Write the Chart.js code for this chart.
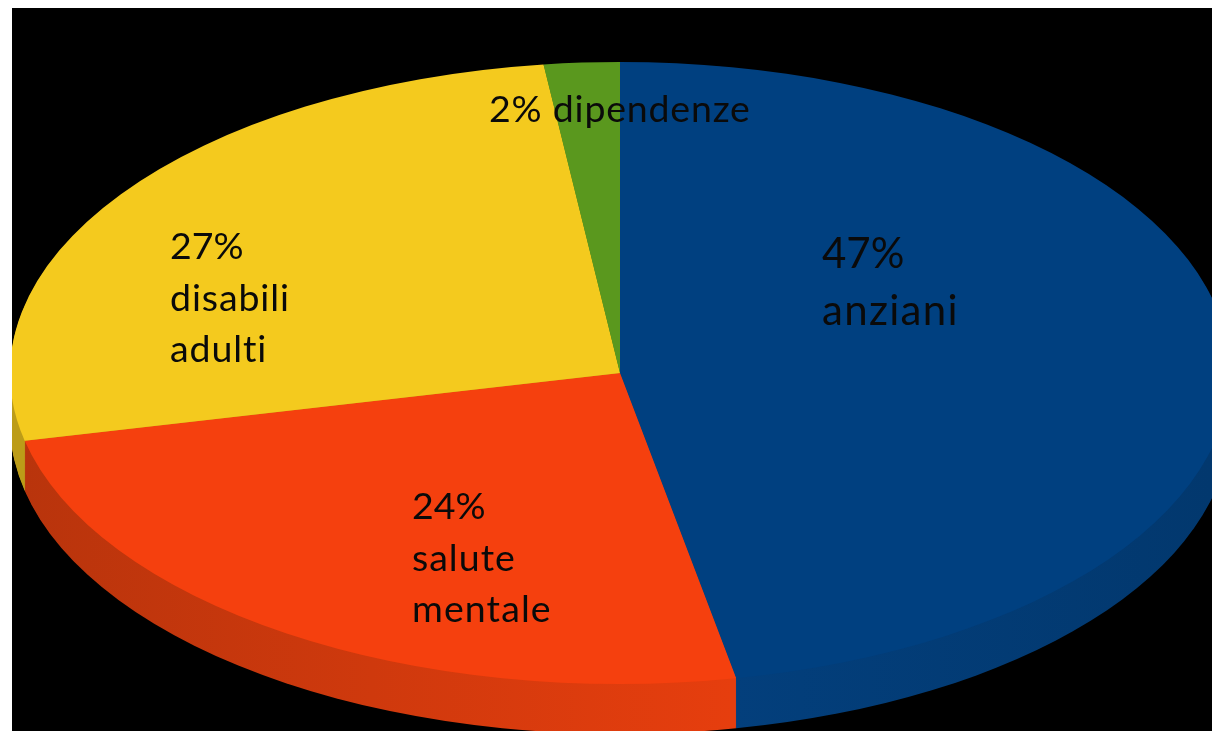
<!DOCTYPE html>
<html><head><meta charset="utf-8">
<style>html,body{margin:0;padding:0;background:#fff;overflow:hidden}
#w{position:absolute;left:12px;top:8px;width:1200px;height:723px}
canvas{display:block}</style>
<script src="https://cdn.jsdelivr.net/npm/chart.js@4"></script></head>
<body><div id="w"><canvas id="c" width="1200" height="723"></canvas></div>
<script>
const categories = ['anziani','salute mentale','disabili adulti','dipendenze'];
const shares = [46.95, 24.55, 26.5, 2.0];
const percentLabels = ['47%','24%','27%','2%'];
const sliceColors = ['#004080','#F5400E','#F4CA1E','#5A981E'];
const rimLeftColors = ['#033F7C','#B8340C','#BC9C18','#4A7C18'];
const rimRightColors = ['#02386E','#E63E0E','#C8A61A','#4A7C18'];

const view = {cx:608, cy:365, rx:610, ry:311, depth:50};
const textBlocks = [
  {lines:['47%','anziani'], spacing:[0,1.3], x:810, y:246, lh:57, size:42},
  {lines:['24%','salute','mentale'], spacing:[0,1,1.1], x:400, y:499, lh:51.5, size:37.5},
  {lines:['27%','disabili','adulti'], spacing:[0,0.9,0.9], x:158, y:239, lh:51.5, size:37.5},
  {lines:['2% dipendenze'], spacing:[0.8], x:477, y:102, lh:50, size:37.5}
];
function applyView(ctx, a){
  ctx.translate(view.cx, view.cy);
  ctx.scale(view.rx/a.outerRadius, view.ry/a.outerRadius);
  ctx.translate(-a.x, -a.y);
}
const pie3d = {
  id:'pie3d',
  beforeDatasetsDraw(chart){
    const ctx = chart.ctx, arcs = chart.getDatasetMeta(0).data;
    const r = arcs[0].outerRadius, sx = view.rx/r;
    const grads = arcs.map((a,i)=>{
      const g = ctx.createLinearGradient(-view.cx/sx,0,(chart.width-view.cx)/sx,0);
      if(i===1){
        g.addColorStop(0, rimLeftColors[i]); g.addColorStop(0.6, rimRightColors[i]); g.addColorStop(1, rimRightColors[i]);
      }else{
        g.addColorStop(0.6, rimLeftColors[i]); g.addColorStop(1, rimRightColors[i]);
      }
      return g;
    });
    for(let d=view.depth;d>=1;d--){
      arcs.forEach((a,i)=>{
        ctx.save();
        ctx.translate(0,d);
        ctx.translate(view.cx, view.cy);
        ctx.scale(sx, view.ry/r);
        ctx.fillStyle = grads[i];
        ctx.beginPath();
        ctx.moveTo(0,0);
        ctx.arc(0,0,r,a.startAngle,a.endAngle);
        ctx.closePath(); ctx.fill();
        ctx.restore();
      });
    }
  },
  beforeDatasetDraw(chart){
    chart.ctx.save();
    applyView(chart.ctx, chart.getDatasetMeta(0).data[0]);
  },
  afterDatasetDraw(chart){ chart.ctx.restore(); },
  afterDatasetsDraw(chart){
    const ctx = chart.ctx;
    ctx.save();
    ctx.fillStyle = '#0a0a0a';
    ctx.textBaseline = 'middle'; ctx.textAlign = 'left';
    textBlocks.forEach(b=>{
      ctx.font = b.size+'px Lato, sans-serif';
      b.lines.forEach((t,i)=>{
        ctx.letterSpacing = b.spacing[i]+'px';
        ctx.fillText(t,b.x,b.y+i*b.lh);
      });
    });
    ctx.restore();
  }
};
new Chart(document.getElementById('c'),{
  type:'pie',
  data:{labels:categories,datasets:[{data:shares,backgroundColor:sliceColors,borderWidth:0}]},
  options:{responsive:false,animation:false,layout:{padding:0},
    plugins:{legend:{display:false},tooltip:{enabled:false},title:{display:false}}},
  plugins:[{id:'bg',beforeDraw(c){c.ctx.fillStyle='#000';c.ctx.fillRect(0,0,c.width,c.height);}},pie3d]
});
</script></body></html>
